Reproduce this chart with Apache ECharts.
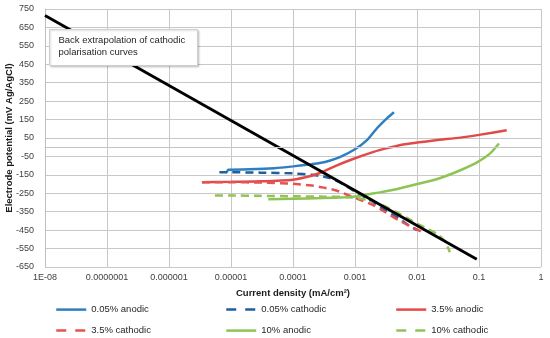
<!DOCTYPE html>
<html><head><meta charset="utf-8">
<script src="https://cdn.jsdelivr.net/npm/echarts@6/dist/echarts.min.js"></script>
<style>html,body{margin:0;padding:0;background:#fff}#c{width:550px;height:338px}</style>
</head><body><div id="c"></div>
<script>
const xTickLabels = ['1E-08','0.0000001','0.000001','0.00001','0.0001','0.001','0.01','0.1','1'];
const seriesNames = ['0.05% anodic','0.05% cathodic','3.5% anodic','3.5% cathodic','10% anodic','10% cathodic'];

const blueAnodicX = [8.6e-6, 9e-6, 2e-5, 5e-5, 1e-4, 2e-4, 2.7e-4, 4e-4, 5.7e-4, 1e-3, 1.56e-3, 2.26e-3, 3.3e-3, 4.25e-3];
const blueAnodicY = [-135, -122, -120, -114, -104, -92, -86, -72, -54, -11, 38, 103, 158, 190];

const blueCathodicX = [6.5e-6, 1e-5, 3e-5, 1e-4, 2e-4, 3e-4, 4e-4, 6e-4, 1e-3, 2e-3, 3e-3, 5e-3, 7e-3, 1e-2];
const blueCathodicY = [-136, -136, -138, -142, -150, -158, -168, -195, -240, -300, -340, -385, -420, -450];

const redAnodicX = [3.4e-6, 1e-5, 3e-5, 1e-4, 2e-4, 2.7e-4, 5e-4, 1e-3, 2e-3, 3.3e-3, 6e-3, 1e-2, 2e-2, 5e-2, 0.1, 0.28];
const redAnodicY = [-190, -188, -185, -176, -155, -140, -100, -60, -25, -5, 15, 25, 38, 52, 67, 92];

const redCathodicX = [3.4e-6, 1e-5, 3e-5, 1e-4, 2e-4, 3e-4, 5e-4, 8e-4, 1.2e-3, 2e-3, 3e-3, 5e-3, 8e-3, 1.2e-2];
const redCathodicY = [-190, -190, -192, -198, -208, -218, -235, -262, -285, -315, -350, -395, -430, -460];

const greenAnodicX = [4e-5, 1e-4, 3e-4, 7e-4, 1e-3, 1.5e-3, 2.5e-3, 5e-3, 1e-2, 2e-2, 3e-2, 5e-2, 0.093, 0.15, 0.21];
const greenAnodicY = [-283, -280, -276, -272, -268, -258, -245, -225, -200, -175, -155, -125, -82, -35, 20];

const greenCathodicX = [5.5e-6, 1e-5, 3e-5, 1e-4, 3e-4, 7e-4, 1.2e-3, 2e-3, 3e-3, 5e-3, 7e-3, 1e-2, 1.5e-2, 2.2e-2, 2.8e-2, 3.4e-2];
const greenCathodicY = [-262, -262, -264, -266, -268, -270, -278, -295, -320, -358, -385, -415, -445, -475, -510, -570];

const extrapX = [1e-8, 0.092];
const extrapY = [715, -608];

const zip = (xs, ys) => xs.map((x, i) => [x, ys[i]]);
const FONT = '"Liberation Sans", Arial, sans-serif';

const colors = ['#2e7fc2', '#1f5f9e', '#e24a4a', '#e55353', '#8dc454', '#93c15a'];
const dataSets = [
  zip(blueAnodicX, blueAnodicY), zip(blueCathodicX, blueCathodicY),
  zip(redAnodicX, redAnodicY), zip(redCathodicX, redCathodicY),
  zip(greenAnodicX, greenAnodicY), zip(greenCathodicX, greenCathodicY)
];

const series = seriesNames.map((n, i) => ({
  name: n, type: 'line', data: dataSets[i], showSymbol: false, symbol: 'none',
  smooth: 0.2, z: 3,
  lineStyle: { color: colors[i], width: 2.5, type: (i % 2 === 1) ? [8, 5] : 'solid' },
  itemStyle: { color: colors[i] }
}));
series.unshift({
  name: 'zeroLine', type: 'line', data: [], z: 1, silent: true,
  markLine: { silent: true, symbol: 'none', label: { show: false },
    lineStyle: { color: '#c4c4c4', width: 1, type: 'solid' }, data: [{ yAxis: 0 }] }
});
series.push({
  name: 'Back extrapolation', type: 'line', data: zip(extrapX, extrapY),
  showSymbol: false, symbol: 'none', z: 4,
  lineStyle: { color: '#000', width: 2.8 }
});

const legendPos = [[55, 304], [225, 304], [395, 304], [55, 325], [225, 325], [395, 325]];
const legends = seriesNames.map((n, i) => ({
  left: legendPos[i][0], top: legendPos[i][1], padding: 0,
  itemWidth: 30, itemHeight: 14, itemGap: 0,
  itemStyle: { opacity: 0 },
  lineStyle: { type: (i % 2 === 1) ? [10, 9] : 'solid', width: 2.5 },
  textStyle: { fontFamily: FONT, fontSize: 9.5, color: '#262626' },
  data: [n]
}));

const chart = echarts.init(document.getElementById('c'), null, { renderer: 'canvas' });
chart.setOption({
  animation: false,
  backgroundColor: '#fff',
  grid: { left: 45, right: 9, top: 9, bottom: 71, containLabel: false, outerBoundsMode: 'none' },
  xAxis: {
    type: 'log', logBase: 10, min: 1e-8, max: 1,
    name: 'Current density (mA/cm²)', nameLocation: 'middle', nameGap: 21, nameMoveOverlap: false,
    nameTextStyle: { fontFamily: FONT, fontSize: 9.5, fontWeight: 'bold', color: '#1a1a1a' },
    axisLine: { show: true, lineStyle: { color: '#bfbfbf', width: 1 } },
    axisTick: { show: false },
    splitLine: { show: true, lineStyle: { color: '#c8c8c8', width: 1 } },
    minorTick: { show: false }, minorSplitLine: { show: false },
    axisLabel: {
      margin: 6, fontFamily: FONT, fontSize: 9, color: '#404040',
      formatter: v => xTickLabels[Math.round(Math.log10(v)) + 8] || ''
    }
  },
  yAxis: {
    type: 'value', min: -650, max: 750, interval: 100,
    name: 'Electrode potential (mV Ag/AgCl)', nameLocation: 'middle', nameGap: 31, nameMoveOverlap: false,
    nameTextStyle: { fontFamily: FONT, fontSize: 9.5, fontWeight: 'bold', color: '#1a1a1a' },
    axisLine: { show: true, lineStyle: { color: '#bfbfbf', width: 1 } },
    axisTick: { show: false },
    splitLine: { show: true, lineStyle: { color: '#c8c8c8', width: 1 } },
    axisLabel: { margin: 11, fontFamily: FONT, fontSize: 9, color: '#404040' }
  },
  legend: legends,
  graphic: [{
    type: 'group', left: 49, top: 29, z: 100,
    children: [
      { type: 'rect', z: 100, shape: { x: 0, y: 0, width: 148, height: 36 },
        style: { fill: '#fff', stroke: '#cfcfcf', lineWidth: 1,
          shadowBlur: 2, shadowColor: 'rgba(0,0,0,0.18)', shadowOffsetX: 1, shadowOffsetY: 1 } },
      { type: 'text', z: 101, x: 9, y: 5,
        style: { text: 'Back extrapolation of cathodic\npolarisation curves',
          font: '9.5px ' + FONT, fill: '#262626', lineHeight: 12 } }
    ]
  }],
  series: series
});
</script>
</body></html>
